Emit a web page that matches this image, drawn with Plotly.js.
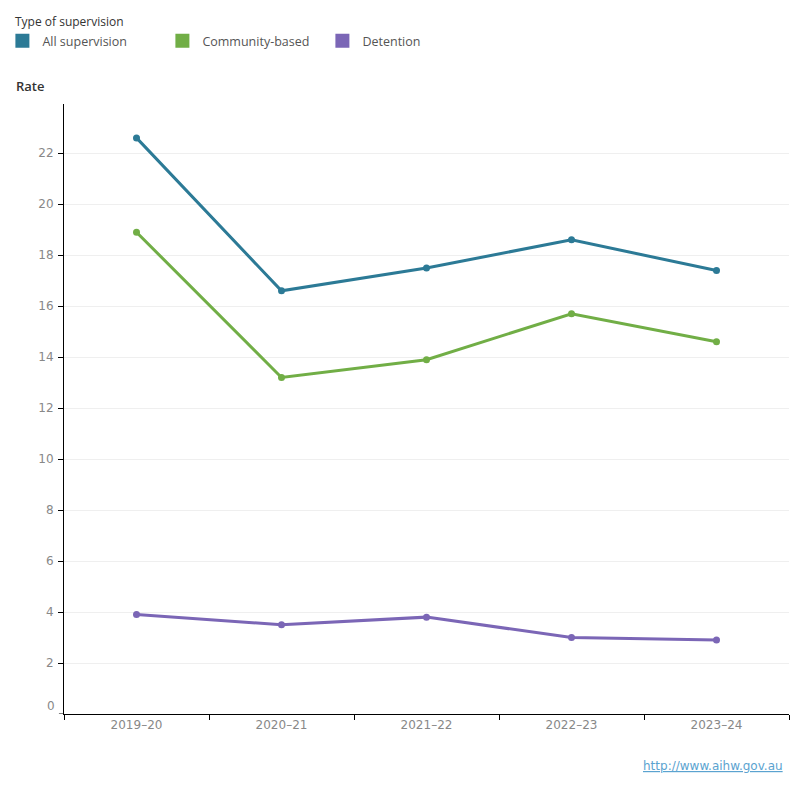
<!DOCTYPE html>
<html><head><meta charset="utf-8">
<script src="https://cdn.plot.ly/plotly-3.0.1.min.js"></script>
<style>body{margin:0;background:#fff}#c{width:800px;height:800px}</style>
</head><body><div id="c"></div>
<script>
const years = ["2019–20","2020–21","2021–22","2022–23","2023–24"];
const allSupervision = [22.6, 16.6, 17.5, 18.6, 17.4];
const communityBased = [18.9, 13.2, 13.9, 15.7, 14.6];
const detention = [3.9, 3.5, 3.8, 3.0, 2.9];
const seriesNames = ["All supervision","Community-based","Detention"];
const seriesColors = ["#2C7A96","#71AE46","#7B66B6"];
const yTicks = [2,4,6,8,10,12,14,16,18,20,22];

const vals = [allSupervision, communityBased, detention];
const traces = [];
vals.forEach((v,i)=>{
  traces.push({x: years, y: v, type:"scatter", mode:"lines+markers", name: seriesNames[i],
    line:{color: seriesColors[i], width:3}, marker:{color: seriesColors[i], size:7},
    showlegend:false, hoverinfo:"x+y+name"});
});
seriesNames.forEach((n,i)=>{
  traces.push({x:[null], y:[null], type:"scatter", mode:"markers", name:n,
    marker:{symbol:"square", size:14, color:seriesColors[i]}, showlegend:true});
});

const layout = {
  width:800, height:800,
  margin:{l:64, r:11, t:104, b:86},
  paper_bgcolor:"#fff", plot_bgcolor:"#fff",
  font:{family:"DejaVu Sans, sans-serif", size:12, color:"#888"},
  showlegend:true,
  legend:{orientation:"h", xref:"container", yref:"container", x:0.003, y:0.9675, xanchor:"left", yanchor:"top",
    font:{family:"Open Sans", size:12.5, color:"#555"},
    entrywidth:115, entrywidthmode:"pixels", itemwidth:20, tracegroupgap:0, bgcolor:"rgba(0,0,0,0)"},
  xaxis:{type:"category", tickson:"boundaries", ticks:"outside", ticklen:5, tickcolor:"#000",
    showline:true, linecolor:"#000", linewidth:1, showgrid:false, zeroline:false,
    tickfont:{family:"DejaVu Sans", size:12, color:"#888"}, range:[-0.5,4.5], fixedrange:true},
  yaxis:{range:[0,23.93], tickvals:yTicks, ticks:"outside", ticklen:5, tickcolor:"#000",
    showline:true, linecolor:"#000", linewidth:1, showgrid:true, gridcolor:"#efefef", zeroline:false,
    tickfont:{family:"DejaVu Sans", size:12, color:"#888"}, ticklabelstandoff:2},
  annotations:[
    {text:"Type of supervision", xref:"paper", yref:"paper", x:-0.0703, y:(714-22)/610, xanchor:"left", yanchor:"middle", showarrow:false,
      font:{family:"Open Sans", size:12, color:"#333", weight:500}},
    {text:"Rate", xref:"paper", yref:"paper", x:-0.069, y:1.03, xanchor:"left", yanchor:"middle", showarrow:false,
      font:{family:"Open Sans", size:13, color:"#333", weight:600}},
    {text:"0", xref:"paper", yref:"y", x:0, y:0, xanchor:"right", yanchor:"middle", xshift:-7, yshift:8, showarrow:false,
      font:{family:"DejaVu Sans", size:12, color:"#888"}},
    {text:"<u>http://www.aihw.gov.au</u>", xref:"paper", yref:"paper", x:0.9945, y:-0.085, xanchor:"right", yanchor:"middle", showarrow:false,
      font:{family:"DejaVu Sans", size:12, color:"#5BA3D0"}}
  ],
  shapes:[{type:"line", xref:"paper", yref:"y", x0:0, x1:-0.007, y0:0, y1:0, line:{color:"#000", width:1}}]
};
Plotly.newPlot("c", traces, layout, {displayModeBar:false, staticPlot:true});
</script></body></html>
